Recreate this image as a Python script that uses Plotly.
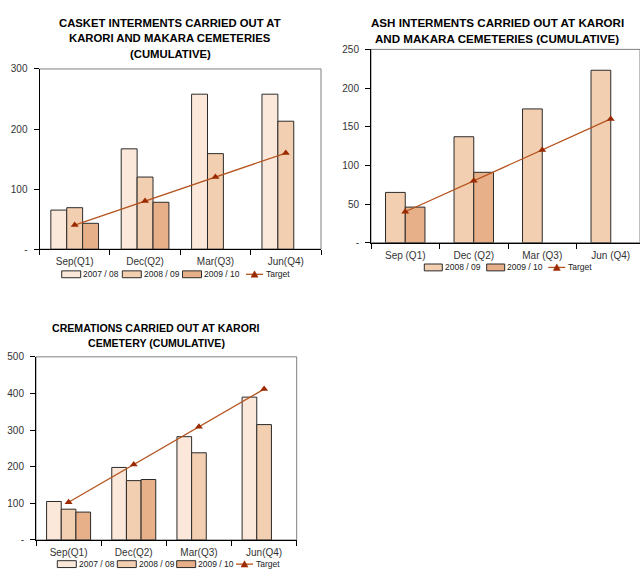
import plotly.graph_objects as go

# ---- data -------------------------------------------------------------
quarters_a = ["Sep(Q1)", "Dec(Q2)", "Mar(Q3)", "Jun(Q4)"]
quarters_b = ["Sep (Q1)", "Dec (Q2)", "Mar (Q3)", "Jun (Q4)"]

casket_0708 = [65, 167, 258, 258]
casket_0809 = [69, 120, 159, 213]
casket_0910 = [43, 78, None, None]
casket_target = [40, 80, 120, 160]

ash_0809 = [65, 137, 173, 223]
ash_0910 = [46, 91, None, None]
ash_target = [40, 80, 120, 160]

crem_0708 = [105, 198, 282, 390]
crem_0809 = [84, 162, 238, 315]
crem_0910 = [76, 165, None, None]
crem_target = [103, 206, 309, 412]

casket_ticks = [0, 100, 200, 300]
ash_ticks = [0, 50, 100, 150, 200, 250]
crem_ticks = [0, 100, 200, 300, 400, 500]

titles = [
    ["CASKET INTERMENTS CARRIED OUT AT", "KARORI AND MAKARA CEMETERIES", "(CUMULATIVE)"],
    ["ASH INTERMENTS CARRIED OUT AT KARORI", "AND MAKARA CEMETERIES (CUMULATIVE)"],
    ["CREMATIONS CARRIED OUT AT KARORI", "CEMETERY (CUMULATIVE)"],
]

# ---- styling ----------------------------------------------------------
FONT = "Liberation Sans, Arial, sans-serif"
C0708 = "#FBE8DA"
C0809 = "#F3CFB1"
C0910 = "#E8B088"
LINE_C = "#B5531E"
MARK_C = "#9C2A00"
EDGE = "#2b2b2b"
W, H = 640, 576


def px(x):
    return x / W


def py(y):
    return (H - y) / H


def tick_text(vals):
    return ["-" if v == 0 else str(v) for v in vals]


fig = go.Figure()


def add_bars(series, colors, xcat, xa, ya, width):
    n = len(series)
    start = -n * width / 2
    for i, (vals, col) in enumerate(zip(series, colors)):
        fig.add_trace(go.Bar(
            x=xcat, y=vals, xaxis=xa, yaxis=ya, showlegend=False,
            width=width, offset=start + i * width,
            marker=dict(color=col, line=dict(color=EDGE, width=1)),
        ))


def add_target(xcat, vals, xa, ya):
    fig.add_trace(go.Scatter(
        x=xcat, y=vals, xaxis=xa, yaxis=ya, showlegend=False,
        mode="lines+markers",
        line=dict(color=LINE_C, width=1.3),
        marker=dict(symbol="triangle-up", size=7, color=MARK_C),
    ))


# casket interments
add_bars([casket_0708, casket_0809, casket_0910], [C0708, C0809, C0910],
         quarters_a, "x", "y", 0.226)
add_target(quarters_a, casket_target, "x", "y")

# ash interments
add_bars([ash_0809, ash_0910], [C0809, C0910], quarters_b, "x2", "y2", 0.288)
add_target(quarters_b, ash_target, "x2", "y2")

# cremations
add_bars([crem_0708, crem_0809, crem_0910], [C0708, C0809, C0910],
         quarters_a, "x3", "y3", 0.225)
add_target(quarters_a, crem_target, "x3", "y3")


def xaxis(domain, rng, anchor):
    return dict(domain=domain, range=rng, anchor=anchor, type="category",
                showline=True, linecolor="#000", linewidth=1,
                ticks="outside", ticklen=5, tickcolor="#000", tickson="boundaries",
                showgrid=False, zeroline=False, ticklabelstandoff=3,
                tickfont=dict(family=FONT, size=10, color="#333"), fixedrange=True)


def yaxis(domain, rng, anchor, ticks):
    return dict(domain=domain, range=rng, anchor=anchor,
                showline=True, linecolor="#000", linewidth=1,
                ticks="outside", ticklen=5, tickcolor="#000",
                tickvals=ticks, ticktext=tick_text(ticks),
                showgrid=False, zeroline=False, ticklabelstandoff=4,
                tickfont=dict(family=FONT, size=10, color="#333"), fixedrange=True)


fig.update_layout(
    width=W, height=H, margin=dict(l=0, r=0, t=0, b=0),
    paper_bgcolor="white", plot_bgcolor="white",
    barmode="overlay", showlegend=False,
    font=dict(family=FONT, size=10, color="#222"),
    xaxis=xaxis([px(39.5), px(321)], [-0.5, 3.5], "y"),
    yaxis=yaxis([py(248.3), py(64.3)], [0, 300], "x", casket_ticks),
    xaxis2=xaxis([px(371), 1.0], [-0.5, -0.5 + 4 * (W - 371) / 274], "y2"),
    yaxis2=yaxis([py(241.7), py(44.3)], [0, 250], "x2", ash_ticks),
    xaxis3=xaxis([px(36), px(296.7)], [-0.5, 3.5], "y3"),
    yaxis3=yaxis([py(545.3), py(358.3)], [0, 500], "x3", crem_ticks),
)

# plot-area frame (top and right edges)
for xr, yr in [("x domain", "y domain"), ("x2 domain", "y2 domain"), ("x3 domain", "y3 domain")]:
    fig.add_shape(type="rect", xref=xr, yref=yr, x0=0, x1=1, y0=0, y1=1,
                  line=dict(color="#7f7f7f", width=1), layer="below")

# chart titles, one annotation per line
title_layout = [(170, [17, 33, 49], 11.3), (497, [17, 33], 11.6), (156, [329, 344], 10.6)]
for lines, (xc, ys, fs) in zip(titles, title_layout):
    for text, yc in zip(lines, ys):
        fig.add_annotation(text="<b>" + text + "</b>", xref="paper", yref="paper",
                           x=px(xc), y=py(yc), xanchor="center", yanchor="middle",
                           showarrow=False, font=dict(family=FONT, size=fs, color="#000"))

# legends: swatch boxes for the bar series, line + triangle for the target
legends = [
    (274, [("box", C0708, "2007 / 08", 61.7, 19), ("box", C0809, "2008 / 09", 122.3, 19),
           ("box", C0910, "2009 / 10", 182.5, 19), ("line", LINE_C, "Target", 246, 17)]),
    (267, [("box", C0809, "2008 / 09", 424.3, 18), ("box", C0910, "2009 / 10", 486.7, 18),
           ("line", LINE_C, "Target", 548.3, 17)]),
    (570, [("box", C0708, "2007 / 08", 57.3, 19), ("box", C0809, "2008 / 09", 117.3, 19),
           ("box", C0910, "2009 / 10", 176.7, 19), ("line", LINE_C, "Target", 236, 17)]),
]
for yc, entries in legends:
    for kind, col, label, x0, w in entries:
        if kind == "box":
            fig.add_shape(type="rect", xref="paper", yref="paper",
                          x0=px(x0), x1=px(x0 + w), y0=py(yc + 3.5), y1=py(yc - 3.5),
                          fillcolor=col, line=dict(color=EDGE, width=1))
        else:
            fig.add_shape(type="line", xref="paper", yref="paper",
                          x0=px(x0), x1=px(x0 + w), y0=py(yc), y1=py(yc),
                          line=dict(color=col, width=1.3))
            cx = x0 + w / 2
            fig.add_shape(type="path", xref="paper", yref="paper",
                          path=f"M {px(cx - 3.5)} {py(yc + 3)} L {px(cx + 3.5)} {py(yc + 3)} "
                               f"L {px(cx)} {py(yc - 3.5)} Z",
                          fillcolor=MARK_C, line=dict(color=MARK_C, width=0.5))
        fig.add_annotation(text=label, xref="paper", yref="paper",
                           x=px(x0 + w + 1.5), y=py(yc), xanchor="left", yanchor="middle",
                           showarrow=False, font=dict(family=FONT, size=8.5, color="#222"),
                           borderpad=0)

fig.write_html("out.html")
